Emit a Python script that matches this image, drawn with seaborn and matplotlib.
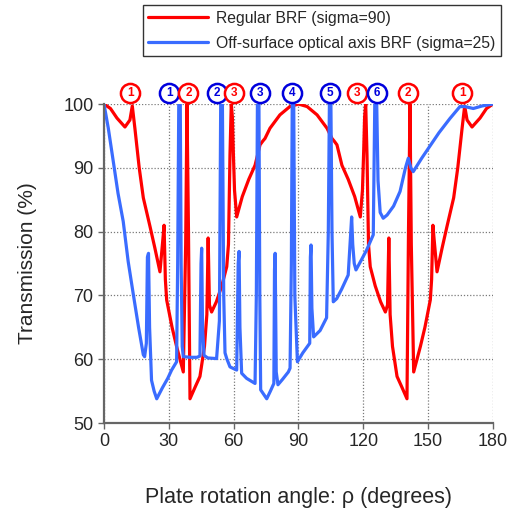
import matplotlib
matplotlib.use("Agg")
import matplotlib.pyplot as plt
import pandas as pd
import seaborn as sns

# Regular BRF (sigma=90)
red_x = [0, 3, 6, 9.7, 12, 13.1, 14.3, 16.3, 18.2, 21.3, 23.5, 25.9, 27.3, 27.8, 28.4, 29.0,
         31.5, 33.6, 36.7, 37.8, 38.4, 39.1, 39.8, 42, 44.4, 46.5, 47.6, 48.2, 48.8, 49.8,
         52, 54.5, 56.8, 57.6, 58.3, 58.9, 59.4, 59.8, 60.4, 61.4, 64, 67, 69.9, 72.2, 73.5,
         74.5, 76.8, 81.4, 86, 90,
         94, 98.6, 103.2, 105.5, 106.5, 107.8, 110.1, 113, 116, 118.6, 119.6, 120.2, 120.6,
         121.1, 121.7, 122.4, 123.2, 125.5, 128, 130.2, 131.2, 131.8, 132.4, 133.5, 135.6,
         138, 140.2, 140.9, 141.6, 142.2, 143.3, 146.4, 148.5, 151, 151.6, 152.2, 152.7,
         154.1, 156.5, 158.7, 161.8, 163.7, 165.7, 166.9, 168, 170.3, 174, 177, 180]
red_y = [100, 99.3, 97.8, 96.4, 97.5, 99.7, 96.2, 90, 85.3, 80.8, 77.5, 73.7, 79, 81, 72.5, 69.3,
         65, 62, 58, 78, 100, 80, 53.8, 55.5, 57.3, 62, 67, 79, 68.5, 67.4,
         69, 71.5, 74.5, 78, 92, 100, 98, 93, 86.5, 82.3, 85.5, 88.2, 90.4, 93.6, 94.2,
         94.6, 96.2, 98.3, 99.6, 100,
         99.6, 98.3, 96.2, 94.6, 94.2, 93.6, 90.4, 88.2, 85.5, 82.3, 86.5, 93, 98,
         100, 92, 78, 74.5, 71.5, 69, 67.4, 68.5, 79, 67, 62, 57.3,
         55.5, 53.8, 80, 100, 78, 58, 62, 65, 69.3, 72.5, 81, 79,
         73.7, 77.5, 80.8, 85.3, 90, 96.2, 99.7, 97.5, 96.4, 97.8, 99.3, 100]

# Off-surface optical axis BRF (sigma=25)
blue_x = [0, 2, 4.3, 6.5, 8.9, 11.2, 13.6, 16, 18.2, 18.8, 19.6, 20.1, 20.6, 21.1, 22, 23.2,
          24.4, 27, 29.5, 31.3, 33.6, 34.1, 34.6, 35.3, 35.7, 36.2, 36.7, 40, 43, 44.4, 44.9,
          45.2, 45.6, 46.3, 48, 52.1, 53.4, 54, 54.8, 55.4, 56, 56.8, 58.3, 61.4, 62.1, 62.5,
          62.9, 63.7, 66, 69.9, 70.5, 71.0, 71.7, 72.1, 72.5, 75.3, 77, 78.6, 78.9, 79.2,
          79.7, 80.5, 82.5, 85.3, 86.1, 86.7, 87.1, 87.8, 88.3, 89.5, 92, 95.2, 95.5, 95.8,
          96.2, 97, 100, 103, 103.8, 104.3, 105, 105.5, 106.1, 107.7, 110, 113, 114.2, 114.6,
          115.1, 115.8, 116.6, 119, 121.5, 124.6, 125.3, 126.2, 126.8, 127.8, 129.2, 131,
          134, 137, 139.5, 140.8, 142, 143.1, 147, 151, 155, 160, 164.7, 167, 170.9, 175, 180]
blue_y = [100, 96.2, 91, 86, 81.6, 75.3, 70.1, 65, 60.7, 60.4, 62.5, 76, 76.6, 65, 56.7, 55,
          53.8, 55.5, 57, 58.3, 59.6, 75, 100, 100, 75, 62, 60.4, 60.3, 60.3, 60.5, 75,
          77.4, 65, 60.6, 60.2, 60.1, 66, 100, 100, 70, 61, 60.1, 58.8, 58.3, 75, 76.9,
          65, 57.8, 57, 56.2, 70, 100, 100, 70, 55.2, 53.8, 55, 56.2, 74, 76.6,
          58, 56, 56.8, 58, 58.6, 75, 100, 100, 70, 59.6, 61, 62.5, 76, 77.9,
          68, 63.5, 64.5, 66.5, 80, 100, 100, 80, 69, 69.5, 71, 73.2, 80, 82.3,
          78, 75, 74, 75.5, 77.1, 79.5, 100, 100, 88, 83, 82.1, 82.6,
          84, 86.3, 90, 91.5, 90, 89.4, 91.5, 93.5, 95.5, 97.7, 99.6, 99.6, 99.3, 99.7, 100]

# numbered circles above the plot
mark_x = [12.2, 30.3, 39.1, 52.2, 60.3, 72.0, 87.2, 104.6, 117.2, 126.4, 140.8, 165.8]
mark_text = ["1", "1", "2", "2", "3", "3", "4", "5", "3", "6", "2", "1"]
mark_series = ["r", "b", "r", "b", "r", "b", "b", "b", "r", "b", "r", "r"]

RED_LABEL = "Regular BRF (sigma=90)"
BLUE_LABEL = "Off-surface optical axis BRF (sigma=25)"

sns.set_style("white")
plt.rcParams["font.family"] = ["Liberation Sans", "DejaVu Sans"]

frame = pd.concat([
    pd.DataFrame({"angle": red_x, "trans": red_y, "series": RED_LABEL}),
    pd.DataFrame({"angle": blue_x, "trans": blue_y, "series": BLUE_LABEL}),
])

fig = plt.figure(figsize=(5.13, 5.15), dpi=100)
ax = fig.add_axes([0.2027, 0.1786, 0.7583, 0.6194])

sns.lineplot(data=frame, x="angle", y="trans", hue="series", sort=False, estimator=None,
             palette={RED_LABEL: "#ff0000", BLUE_LABEL: "#3a6cff"}, linewidth=2.3, ax=ax)

ax.set_xlim(0, 180)
ax.set_ylim(50, 100)
ax.set_xticks(range(0, 181, 30))
ax.set_yticks(range(50, 101, 10))
ax.grid(True, linestyle=(0, (1, 1.5)), color="#7a7a7a", linewidth=0.9)
ax.set_axisbelow(True)
for side in ["top", "right"]:
    ax.spines[side].set_visible(False)
for side in ["left", "bottom"]:
    ax.spines[side].set_color("#666666")
    ax.spines[side].set_linewidth(1.6)
ax.tick_params(axis="both", labelsize=13, length=4, width=1, color="#666666", direction="out",
               bottom=True, left=True)
ax.set_xlabel("Plate rotation angle: ρ (degrees)", fontsize=15.5, labelpad=26)
ax.set_ylabel("Transmission (%)", fontsize=15, labelpad=19)

colors = {"r": ("#ff0000", "#ff0000"), "b": ("#0000dd", "#0000dd")}
for x, t, s in zip(mark_x, mark_text, mark_series):
    edge, txt = colors[s]
    ax.scatter([x], [101.8], s=190, facecolor="white", edgecolor=edge, linewidth=1.8,
               clip_on=False, zorder=5)
    ax.text(x, 101.75, t, color=txt, fontsize=8.5, fontweight="bold", ha="center", va="center",
            clip_on=False, zorder=6)

ax.get_legend().remove()
handles, labels = ax.get_legend_handles_labels()
leg = fig.legend(handles, labels, loc="upper right", bbox_to_anchor=(0.976, 0.99), fontsize=11.3,
                 frameon=True, fancybox=False, edgecolor="black", handlelength=3.8,
                 borderpad=0.35, labelspacing=0.65, handletextpad=0.5, borderaxespad=0)
leg.get_frame().set_linewidth(1.0)

fig.savefig("out.png", dpi=100)
